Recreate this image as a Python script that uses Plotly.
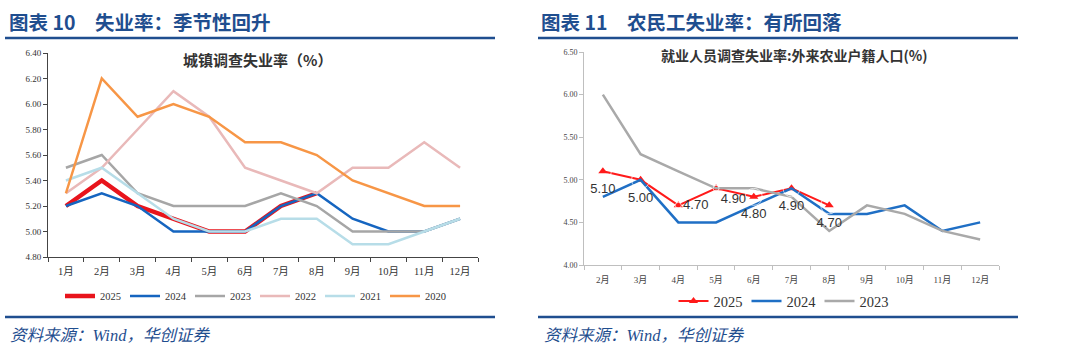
import plotly.graph_objects as go

# ---------------- data ----------------
months_left = ["1月", "2月", "3月", "4月", "5月", "6月", "7月", "8月", "9月", "10月", "11月", "12月"]
u2025 = [5.2, 5.4, 5.2, 5.1, 5.0, 5.0, 5.2, 5.3]
u2024 = [5.2, 5.3, 5.2, 5.0, 5.0, 5.0, 5.2, 5.3, 5.1, 5.0, 5.0, 5.1]
u2023 = [5.5, 5.6, 5.3, 5.2, 5.2, 5.2, 5.3, 5.2, 5.0, 5.0, 5.0, 5.1]
u2022 = [5.3, 5.5, 5.8, 6.1, 5.9, 5.5, 5.4, 5.3, 5.5, 5.5, 5.7, 5.5]
u2021 = [5.4, 5.5, 5.3, 5.1, 5.0, 5.0, 5.1, 5.1, 4.9, 4.9, 5.0, 5.1]
u2020 = [5.3, 6.2, 5.9, 6.0, 5.9, 5.7, 5.7, 5.6, 5.4, 5.3, 5.2, 5.2]

months_right = ["2月", "3月", "4月", "5月", "6月", "7月", "8月", "9月", "10月", "11月", "12月"]
m2025 = [5.1, 5.0, 4.7, 4.9, 4.8, 4.9, 4.7]
m2024 = [4.8, 5.0, 4.5, 4.5, 4.7, 4.9, 4.6, 4.6, 4.7, 4.4, 4.5]
m2023 = [6.0, 5.3, 5.1, 4.9, 4.9, 4.8, 4.4, 4.7, 4.6, 4.4, 4.3]

W, H = 1080, 361
SERIF = "Liberation Serif, Noto Sans CJK SC"
CJK = "Noto Sans CJK SC"
BLUE_HDR = "#1F4E8F"

fig = go.Figure()

left_series = [
    ("2025", months_left[:len(u2025)], u2025, "#E8141C", 4.5),
    ("2024", months_left, u2024, "#1565C0", 2.5),
    ("2023", months_left, u2023, "#A6A6A6", 2.5),
    ("2022", months_left, u2022, "#E9B9B9", 2.5),
    ("2021", months_left, u2021, "#B7DDE8", 2.5),
    ("2020", months_left, u2020, "#F79646", 2.5),
]
for name, xs, ys, col, w in left_series:
    fig.add_trace(go.Scatter(x=xs, y=ys, name=name, mode="lines",
                             line=dict(color=col, width=w),
                             xaxis="x", yaxis="y", legend="legend"))

# right chart
fig.add_trace(go.Scatter(x=months_right[:len(m2025)], y=m2025, name="2025",
                         mode="lines+markers",
                         line=dict(color="#FF1A1A", width=2),
                         marker=dict(symbol="triangle-up", size=8, color="#FF1A1A"),
                         xaxis="x2", yaxis="y2", legend="legend2"))
fig.add_trace(go.Scatter(x=months_right, y=m2024, name="2024", mode="lines",
                         line=dict(color="#1F6FC5", width=2.5),
                         xaxis="x2", yaxis="y2", legend="legend2"))
fig.add_trace(go.Scatter(x=months_right, y=m2023, name="2023", mode="lines",
                         line=dict(color="#A9A9A9", width=2.5),
                         xaxis="x2", yaxis="y2", legend="legend2"))

# data labels for 2025 (invisible markers only set label offsets)
label_pos = ["bottom center", "bottom center", "middle right", "bottom right",
             "bottom center", "bottom center", "bottom center"]
label_gap = [17, 18, 6, 6, 17, 17, 17]
fig.add_trace(go.Scatter(x=months_right[:len(m2025)], y=m2025, mode="markers+text",
                         marker=dict(size=label_gap, color="rgba(0,0,0,0)"),
                         text=[f"{v:.2f}" for v in m2025], textposition=label_pos,
                         textfont=dict(family="Liberation Sans, Arial", size=13, color="#333333"),
                         showlegend=False, hoverinfo="skip",
                         xaxis="x2", yaxis="y2"))

def px(x):
    return x / W

def py(y):
    return 1 - y / H

fig.update_layout(
    width=W, height=H, autosize=False,
    margin=dict(l=0, r=0, t=0, b=0, pad=0, autoexpand=False),
    paper_bgcolor="white", plot_bgcolor="white",
    font=dict(family=SERIF, size=10, color="#333333"),
    xaxis=dict(domain=[px(48), px(478)], type="category", range=[-0.5, 11.5],
               showline=True, linecolor="#444444", linewidth=1,
               ticks="outside", tickson="boundaries", ticklen=4, tickcolor="#444444",
               showgrid=False, zeroline=False, ticklabelstandoff=4,
               tickfont=dict(family=SERIF, size=10.5, color="#333333"), anchor="y"),
    yaxis=dict(domain=[py(257), py(53)], range=[4.8, 6.4], dtick=0.2, tickformat=".2f",
               showline=True, linecolor="#444444", linewidth=1,
               ticks="outside", ticklen=4, tickcolor="#444444",
               showgrid=False, zeroline=False,
               tickfont=dict(family=SERIF, size=9, color="#333333"), anchor="x"),
    xaxis2=dict(domain=[px(584), px(999)], type="category", range=[-0.5, 10.5],
                showline=True, linecolor="#BFBFBF", linewidth=1,
                ticks="outside", tickson="boundaries", ticklen=4, tickcolor="#BFBFBF",
                showgrid=False, zeroline=False, ticklabelstandoff=6,
                tickfont=dict(family=SERIF, size=9, color="#444444"), anchor="y2"),
    yaxis2=dict(domain=[py(265), py(52)], range=[4.0, 6.5], dtick=0.5, tickformat=".2f",
                showline=True, linecolor="#BFBFBF", linewidth=1,
                ticks="outside", ticklen=4, tickcolor="#BFBFBF",
                showgrid=False, zeroline=False,
                tickfont=dict(family=SERIF, size=8, color="#444444"), anchor="x2"),
    legend=dict(orientation="h", x=px(255), xanchor="center", y=py(296), yanchor="middle",
                font=dict(family=SERIF, size=10.5, color="#333333"),
                itemwidth=30, entrywidth=20, entrywidthmode="pixels",
                tracegroupgap=0, bgcolor="rgba(0,0,0,0)"),
    legend2=dict(orientation="h", x=px(783), xanchor="center", y=py(301), yanchor="middle",
                 font=dict(family=SERIF, size=14.5, color="#333333"),
                 itemwidth=30, entrywidth=28, entrywidthmode="pixels",
                 bgcolor="rgba(0,0,0,0)"),
    showlegend=True,
)

# header titles
annos = [
    dict(text="<b>图表 10　失业率：季节性回升</b>", x=px(7), y=py(22)),
    dict(text="<b>图表 11　农民工失业率：有所回落</b>", x=px(539), y=py(22)),
]
for a in annos:
    fig.add_annotation(text=a["text"], x=a["x"], y=a["y"], xref="paper", yref="paper",
                       xanchor="left", yanchor="middle", showarrow=False,
                       font=dict(family=CJK, size=19.5, color=BLUE_HDR))

# chart titles
fig.add_annotation(text="<b>城镇调查失业率（%）</b>", x=px(257), y=py(59), xref="paper", yref="paper",
                   xanchor="center", yanchor="middle", showarrow=False,
                   font=dict(family=CJK, size=15, color="#333333"))
fig.add_annotation(text="<b>就业人员调查失业率:外来农业户籍人口(%)</b>", x=px(794), y=py(55),
                   xref="paper", yref="paper", xanchor="center", yanchor="middle",
                   showarrow=False, font=dict(family=CJK, size=14, color="#333333"))

# sources
for x0 in (8, 542):
    fig.add_annotation(text="<i>资料来源：Wind，华创证券</i>", x=px(x0), y=py(335),
                       xref="paper", yref="paper", xanchor="left", yanchor="middle",
                       showarrow=False,
                       font=dict(family="Liberation Serif, Noto Sans CJK SC", size=16.5,
                                 color=BLUE_HDR))

# rule lines
for (x0, x1) in ((5, 495), (538, 1018)):
    for yy in (38, 317):
        fig.add_shape(type="line", xref="paper", yref="paper",
                      x0=px(x0), x1=px(x1), y0=py(yy), y1=py(yy),
                      line=dict(color=BLUE_HDR, width=2.5))

fig.write_html(
    "out.html",
    config={"displayModeBar": False},
    post_script=("document.documentElement.style.margin='0px';"
                 "document.body.style.margin='0px';document.body.style.padding='0px';"
                 "document.body.style.overflow='hidden';"),
)
